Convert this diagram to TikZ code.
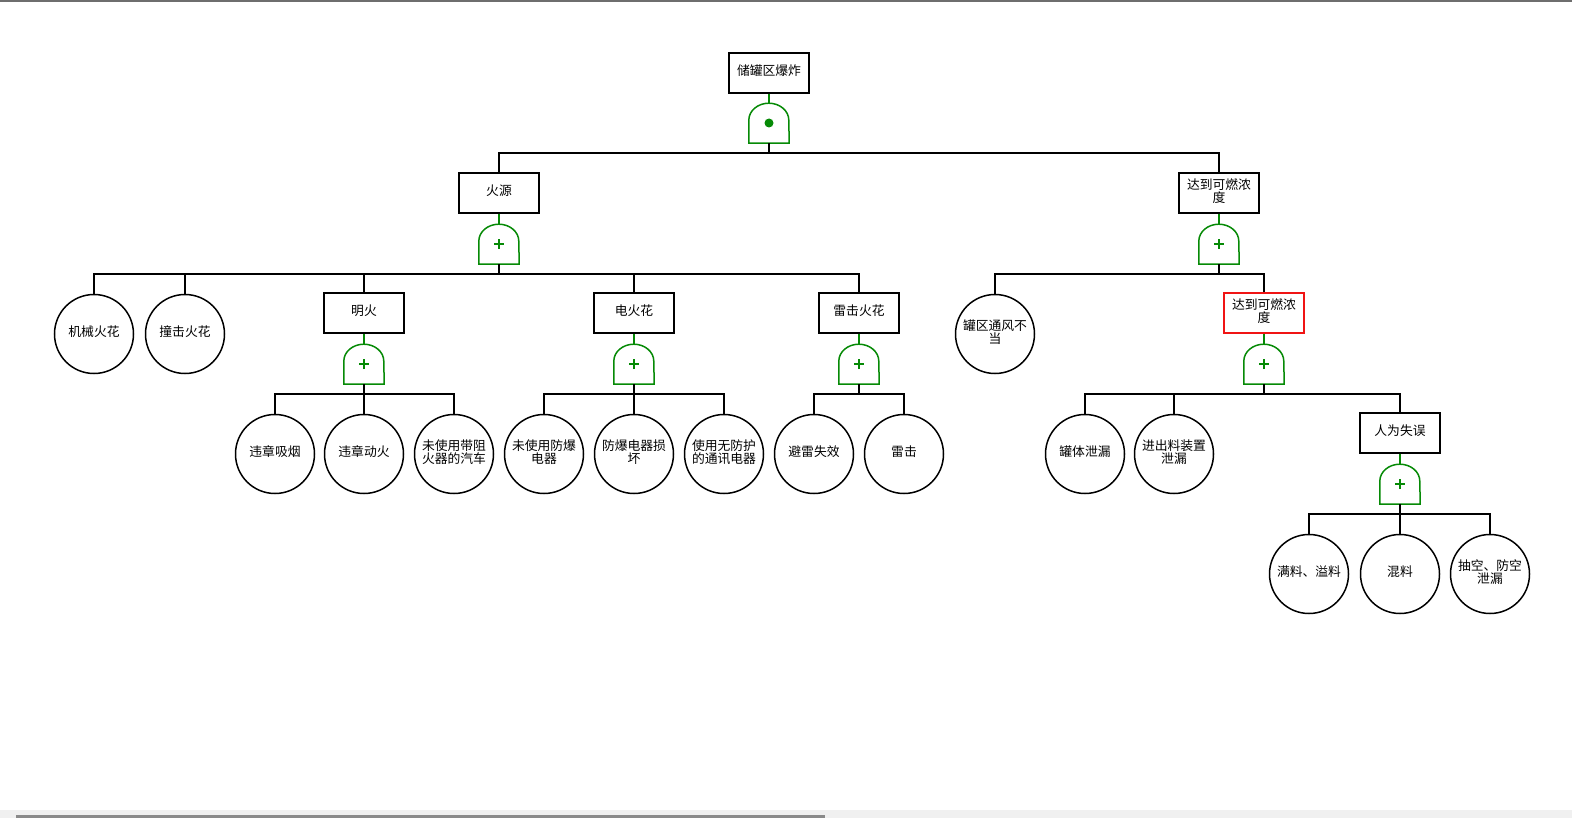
\documentclass[tikz,border=0pt]{standalone}
\usepackage{fontspec}
\setmainfont{Noto Sans CJK SC}
\usetikzlibrary{calc}
\definecolor{gategreen}{HTML}{068A06}
\definecolor{alertred}{HTML}{F01414}
\definecolor{framegray}{HTML}{6E6E6E}
\definecolor{scrollbg}{HTML}{F0F0F0}
\definecolor{scrollthumb}{HTML}{8A8A8A}

\begin{document}
\begin{tikzpicture}[x=1pt, y=-1pt, font=\fontsize{12.8}{13}\selectfont,
    event/.style={draw, line width=1.5pt, minimum width=80pt, minimum height=40pt, inner sep=1pt, align=center, text depth=5pt},
    basic/.style={draw, circle, line width=1.5pt, minimum size=79pt, inner sep=0pt, align=center, text depth=5pt},
    gate/.style={minimum width=40pt, minimum height=40pt, inner sep=0pt},
    gatelink/.style={gategreen, line width=1.2pt},
    bus/.style={line width=1.5pt},
    stem/.style={line width=2.4pt}]
    \useasboundingbox (0,0) rectangle (1572,818);

    % Window frame
    \fill[framegray] (0,0) rectangle (1572,2);
    \fill[scrollbg] (0,810) rectangle (1572,818);
    \fill[scrollthumb] (16,815) rectangle (825,818);

    % Top event
    \node[event] (top) at (769,73) {储罐区爆炸};
    \node[gate] (gtop) at (769,123) {};
    \coordinate (b0) at (769,153);

    % Level 2
    \node[event] (fire) at (499,193) {火源};
    \node[event] (conc) at (1219,193) {达到可燃浓\\度};
    \node[gate] (gfire) at (499,244) {};
    \node[gate] (gconc) at (1219,244) {};
    \coordinate (b1) at (499,274);
    \coordinate (b2) at (1219,274);

    % Level 3
    \node[basic] (mech) at (94,334) {机械火花};
    \node[basic] (impact) at (185,334) {撞击火花};
    \node[event] (flame) at (364,313) {明火};
    \node[event] (spark) at (634,313) {电火花};
    \node[event] (light) at (859,313) {雷击火花};
    \node[basic] (vent) at (995,334) {罐区通风不\\当};
    \node[event, draw=alertred] (conc2) at (1264,313) {达到可燃浓\\度};
    \node[gate] (gflame) at (364,364) {};
    \node[gate] (gspark) at (634,364) {};
    \node[gate] (glight) at (859,364) {};
    \node[gate] (gconc2) at (1264,364) {};
    \coordinate (b3) at (364,394);
    \coordinate (b4) at (634,394);
    \coordinate (b5) at (859,394);
    \coordinate (b6) at (1264,394);

    % Level 4
    \node[basic] (smoke) at (275,454) {违章吸烟};
    \node[basic] (hotwork) at (364,454) {违章动火};
    \node[basic] (car) at (454,454) {未使用带阻\\火器的汽车};
    \node[basic] (noexp) at (544,454) {未使用防爆\\电器};
    \node[basic] (broken) at (634,454) {防爆电器损\\坏};
    \node[basic] (comm) at (724,454) {使用无防护\\的通讯电器};
    \node[basic] (fail) at (814,454) {避雷失效};
    \node[basic] (strike) at (904,454) {雷击};
    \node[basic] (tank) at (1085,454) {罐体泄漏};
    \node[basic] (feed) at (1174,454) {进出料装置\\泄漏};
    \node[event] (human) at (1400,433) {人为失误};
    \node[gate] (ghuman) at (1400,484) {};
    \coordinate (b7) at (1400,514);

    % Level 5
    \node[basic] (overfill) at (1309,574) {满料、溢料};
    \node[basic] (mix) at (1400,574) {混料};
    \node[basic] (empty) at (1490,574) {抽空、防空\\泄漏};

    % AND gate
    \draw[gategreen, line width=1.5pt] (gtop.south west) -- ([yshift=23pt]gtop.south west)
        arc[start angle=180, end angle=0, x radius=20pt, y radius=17pt] -- (gtop.south east) -- cycle;
    \fill[gategreen] (gtop) circle (4.5pt);

    % OR gates
    \foreach \g in {gfire, gconc, gflame, gspark, glight, gconc2, ghuman}{
        \draw[gategreen, line width=1.5pt] (\g.south west) -- ([yshift=23pt]\g.south west)
            arc[start angle=180, end angle=0, x radius=20pt, y radius=17pt] -- (\g.south east) -- cycle;
        \draw[gategreen, line width=2pt] ($(\g)+(-5pt,0pt)$) -- ($(\g)+(5pt,0pt)$);
        \draw[gategreen, line width=2pt] ($(\g)+(0pt,-5pt)$) -- ($(\g)+(0pt,5pt)$);
    }

    % Event to gate links
    \foreach \e/\g in {top/gtop, fire/gfire, conc/gconc, flame/gflame, spark/gspark, light/glight, conc2/gconc2, human/ghuman}{
        \draw[gatelink] (\e.south) -- (\g.north);
    }

    % Gate outputs
    \foreach \g/\b in {gtop/b0, gfire/b1, gconc/b2, gflame/b3, gspark/b4, glight/b5, gconc2/b6, ghuman/b7}{
        \draw[stem] (\g.south) -- (\b);
    }

    % Branches
    \foreach \c in {fire, conc}{ \draw[bus] (\c.north) |- (b0); }
    \foreach \c in {mech, impact, flame, spark, light}{ \draw[bus] (\c.north) |- (b1); }
    \foreach \c in {vent, conc2}{ \draw[bus] (\c.north) |- (b2); }
    \foreach \c in {smoke, hotwork, car}{ \draw[bus] (\c.north) |- (b3); }
    \foreach \c in {noexp, broken, comm}{ \draw[bus] (\c.north) |- (b4); }
    \foreach \c in {fail, strike}{ \draw[bus] (\c.north) |- (b5); }
    \foreach \c in {tank, feed, human}{ \draw[bus] (\c.north) |- (b6); }
    \foreach \c in {overfill, mix, empty}{ \draw[bus] (\c.north) |- (b7); }
\end{tikzpicture}
\end{document}
